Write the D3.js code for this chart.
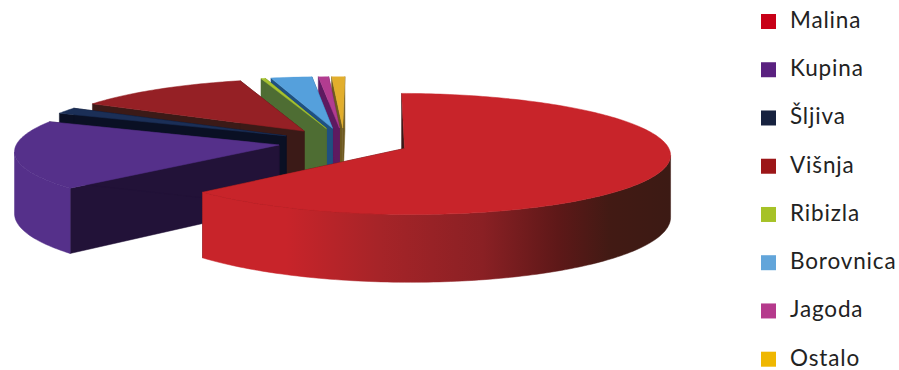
<!DOCTYPE html>
<html><head><meta charset="utf-8">
<script src="https://cdn.jsdelivr.net/npm/d3@7/dist/d3.min.js"></script>
<style>html,body{margin:0;padding:0;background:#fff}svg{display:block}</style>
</head><body><div id="c"></div>
<script>
const categories = ["Malina","Kupina","Šljiva","Višnja","Ribizla","Borovnica","Jagoda","Ostalo"];
const values = [62.9, 18.6, 1.7, 12.1, 0.3, 2.8, 0.7, 0.9];
const legendColors = ["#c80017","#5a2180","#17223f","#9c1618","#a6c227","#62a5da","#b53a8c","#efb700"];
const topColors = ["#c8242a","#55308a","#1b2f57","#952025","#a6c22f","#55a0dc","#b23c90","#e2ae2c"];
const wallColors = ["#3a1a18","#221238","#0a1024","#3b1a17","#4e6d33","#1f5080","#5e1a60","#6e5a20"];

const W=899,H=370;
const cx=344,cy=142.5,A=262,B=59,P=0.09,DEPTH=61,EXPLODE=0.25,START=0.5*Math.PI/180;
const svg=d3.select("#c").append("svg").attr("width",W).attr("height",H);
const defs=svg.append("defs");
defs.append("clipPath").attr("id","clipTop").append("rect").attr("x",0).attr("y",76.5).attr("width",W).attr("height",H);
const g=defs.append("linearGradient").attr("id","malinaRim").attr("gradientUnits","userSpaceOnUse")
  .attr("x1",202).attr("x2",670).attr("y1",0).attr("y2",0);
[[0,"#c8242a"],[0.18,"#c8242a"],[0.38,"#a62428"],[0.6,"#8a2024"],[0.76,"#5e1818"],[0.87,"#421a14"],[1,"#3c1a14"]]
  .forEach(s=>g.append("stop").attr("offset",s[0]).attr("stop-color",s[1]));

const pie=d3.pie().sort(null).startAngle(START).endAngle(START+2*Math.PI);
const arcs=pie(values).map((d,i)=>({...d,i}));
const line=d3.line();

function project(wx,wy,z){
  const s=1/(1-P*wy);
  return [cx+A*wx*s, cy+B*wy*s+DEPTH*z*s];
}
function rimPts(d){
  const n=Math.max(2,Math.ceil((d.endAngle-d.startAngle)/0.02));
  return d3.range(n+1).map(k=>d.startAngle+(d.endAngle-d.startAngle)*k/n);
}
const root=svg.append("g").attr("clip-path","url(#clipTop)");
arcs.slice().reverse().forEach(d=>{
  const m=(d.startAngle+d.endAngle)/2;
  const ox=EXPLODE*Math.sin(m), oy=-EXPLODE*Math.cos(m);
  const P3=(t,z)=>project(ox+Math.sin(t),oy-Math.cos(t),z);
  const C=z=>project(ox,oy,z);
  const gs=root.append("g").attr("class","slice");
  const draw=(pts,fill)=>gs.append("path").attr("d",line(pts)+"Z").attr("fill",fill).attr("stroke",fill).attr("stroke-width",0.5);
  const ang=rimPts(d);
  draw([C(0),P3(d.startAngle,0),P3(d.startAngle,1),C(1)],wallColors[d.i]);
  draw([C(0),P3(d.endAngle,0),P3(d.endAngle,1),C(1)],wallColors[d.i]);
  // the outer wall only shows on the part of the rim that faces the viewer
  const front=ang.filter(t=>Math.cos(t)<=0.05);
  if(front.length>1){
    const iMax=d3.greatestIndex(front,t=>P3(t,0)[0]);
    const iMin=d3.leastIndex(front,t=>P3(t,0)[0]);
    const vis=front.slice(iMax,iMin+1);
    if(vis.length>1){
      const rim=vis.map(t=>P3(t,0)).concat(vis.slice().reverse().map(t=>P3(t,1)));
      draw(rim,d.i===0?"url(#malinaRim)":(d.i===1?topColors[1]:wallColors[d.i]));
    }
  }
  draw([C(0)].concat(ang.map(t=>P3(t,0))),topColors[d.i]);
});

const ly=d3.scalePoint().domain(categories).range([21.5,359.2]);
const leg=svg.append("g").selectAll("g").data(categories).join("g")
  .attr("transform",d=>`translate(0,${ly(d)})`);
leg.append("rect").attr("x",761).attr("y",-7.5).attr("width",15).attr("height",15)
  .attr("fill",(d,i)=>legendColors[i]);
leg.append("text").attr("x",790).attr("y",6.4).attr("fill","#222")
  .attr("font-family","Lato,sans-serif").attr("font-size",22.5).attr("letter-spacing",0.85).text(d=>d);
</script></body></html>
